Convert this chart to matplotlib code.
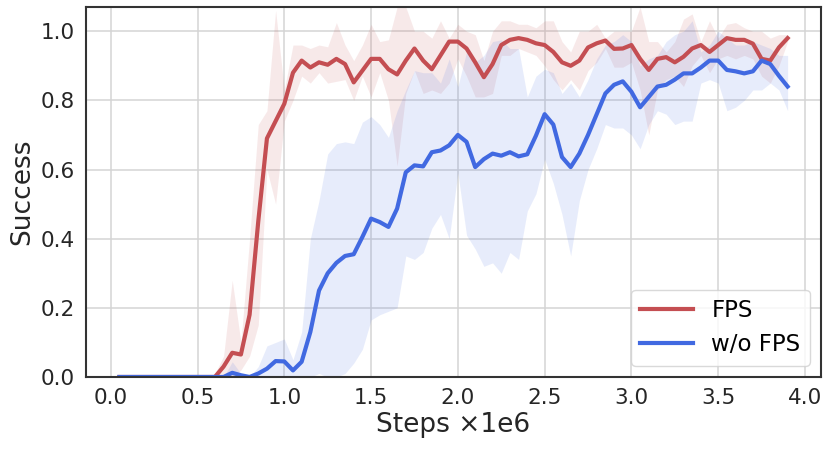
import numpy as np
import matplotlib
matplotlib.use('Agg')
import matplotlib.pyplot as plt

steps = np.round(np.arange(1, 79) * 0.05, 2)

fps_mean = [0.0] * 11 + [
    0.0, 0.03, 0.07, 0.065, 0.18, 0.45, 0.69, 0.74, 0.79, 0.88,
    0.915, 0.895, 0.91, 0.903, 0.92, 0.905, 0.852, 0.886, 0.92, 0.92,
    0.89, 0.875, 0.915, 0.95, 0.915, 0.89, 0.93, 0.97, 0.97, 0.95,
    0.91, 0.867, 0.905, 0.96, 0.975, 0.98, 0.975, 0.965, 0.96, 0.94,
    0.91, 0.90, 0.915, 0.953, 0.965, 0.973, 0.949, 0.95, 0.96, 0.92,
    0.888, 0.92, 0.925, 0.91, 0.926, 0.95, 0.96, 0.94, 0.96, 0.98,
    0.975, 0.975, 0.964, 0.92, 0.915, 0.953, 0.98]
fps_low = [0.0] * 11 + [
    0.0, 0.0, 0.0, 0.02, 0.06, 0.15, 0.60, 0.50, 0.74, 0.80,
    0.87, 0.85, 0.88, 0.85, 0.855, 0.86, 0.80, 0.87, 0.81, 0.88,
    0.80, 0.61, 0.82, 0.886, 0.82, 0.83, 0.82, 0.85, 0.92, 0.87,
    0.81, 0.81, 0.82, 0.93, 0.93, 0.95, 0.94, 0.93, 0.90, 0.86,
    0.83, 0.86, 0.83, 0.886, 0.91, 0.95, 0.896, 0.896, 0.91, 0.83,
    0.70, 0.83, 0.86, 0.87, 0.84, 0.90, 0.93, 0.88, 0.92, 0.93,
    0.92, 0.93, 0.92, 0.87, 0.85, 0.90, 0.97]
fps_high = [0.0] * 11 + [
    0.01, 0.06, 0.28, 0.10, 0.40, 0.73, 0.77, 1.06, 0.83, 0.96,
    0.96, 0.95, 0.96, 0.955, 1.025, 0.96, 0.915, 0.96, 1.02, 0.97,
    0.975, 1.07, 1.07, 1.0, 1.0, 0.98, 1.03, 0.98, 1.02, 1.0,
    0.99, 0.915, 1.0, 1.03, 1.03, 1.02, 1.02, 1.01, 1.03, 1.03,
    0.97, 0.94, 1.0, 1.0, 1.02, 0.98, 1.0, 1.0, 1.0, 1.07,
    0.97, 0.97, 0.94, 0.97, 1.035, 1.05, 0.97, 1.03, 0.98, 1.02,
    1.025, 1.01, 1.0, 1.0, 0.98, 0.99, 0.99]

wo_mean = [0.0] * 13 + [
    0.012, 0.005, 0.0, 0.01, 0.024, 0.046, 0.045, 0.019, 0.044, 0.13,
    0.25, 0.30, 0.33, 0.35, 0.355, 0.405, 0.458, 0.448, 0.434, 0.487,
    0.592, 0.612, 0.609, 0.65, 0.655, 0.67, 0.70, 0.68, 0.607, 0.63,
    0.646, 0.64, 0.65, 0.638, 0.644, 0.698, 0.76, 0.73, 0.636, 0.607,
    0.646, 0.70, 0.76, 0.82, 0.845, 0.855, 0.825, 0.78, 0.81, 0.84,
    0.845, 0.86, 0.878, 0.878, 0.895, 0.915, 0.915, 0.888, 0.884, 0.878,
    0.884, 0.915, 0.905, 0.871, 0.84]
wo_low = [0.0] * 13 + [
    0.0, 0.0, 0.0, 0.0, 0.0, 0.0, 0.0, 0.0, 0.0, 0.0,
    0.01, 0.0, 0.0, 0.01, 0.04, 0.08, 0.165, 0.18, 0.19, 0.20,
    0.35, 0.34, 0.36, 0.43, 0.47, 0.40, 0.59, 0.41, 0.37, 0.32,
    0.33, 0.30, 0.36, 0.34, 0.48, 0.53, 0.63, 0.56, 0.47, 0.35,
    0.51, 0.60, 0.66, 0.73, 0.72, 0.72, 0.70, 0.66, 0.73, 0.77,
    0.76, 0.73, 0.74, 0.74, 0.85, 0.86, 0.85, 0.77, 0.78, 0.80,
    0.83, 0.83, 0.85, 0.83, 0.77]
wo_high = [0.0] * 13 + [
    0.044, 0.01, 0.0, 0.03, 0.09, 0.10, 0.11, 0.05, 0.13, 0.40,
    0.51, 0.645, 0.675, 0.68, 0.675, 0.737, 0.753, 0.73, 0.693, 0.77,
    0.83, 0.886, 0.88, 0.88, 0.85, 0.92, 0.84, 0.94, 0.91, 0.93,
    0.97, 0.975, 0.95, 0.95, 0.81, 0.87, 0.89, 0.88, 0.82, 0.85,
    0.81, 0.86, 0.92, 0.96, 0.97, 0.99, 0.97, 0.90, 0.92, 0.93,
    0.97, 0.99, 1.0, 1.03, 0.94, 0.96, 1.0, 0.98, 0.96, 0.96,
    0.97, 0.96, 0.95, 0.93, 0.93]

red = '#C44E52'
blue = '#4169E1'
dark = '#262626'

plt.rcParams['font.family'] = ['DejaVu Sans']

fig = plt.figure(figsize=(8.31, 4.49), dpi=100)
ax = fig.add_axes([0.1035, 0.1604, 0.8845, 0.824])

ax.fill_between(steps, fps_low, fps_high, color=red, alpha=0.12, linewidth=0)
ax.fill_between(steps, wo_low, wo_high, color=blue, alpha=0.12, linewidth=0)
ax.plot(steps, fps_mean, color=red, lw=3, label='FPS')
ax.plot(steps, wo_mean, color=blue, lw=3, label='w/o FPS')

ax.set_ylim(0, 1.07)
ax.set_xticks([0.0, 0.5, 1.0, 1.5, 2.0, 2.5, 3.0, 3.5, 4.0])
ax.set_yticks([0.0, 0.2, 0.4, 0.6, 0.8, 1.0])
ax.grid(True, color='#d4d4d4', lw=1.1)
ax.set_axisbelow(True)
for s in ax.spines.values():
    s.set_color('#333333')
    s.set_linewidth(1.5)
ax.tick_params(length=0, pad=8, labelsize=15.5, labelcolor=dark)

ax.set_xlabel('Steps ×1e6', fontsize=19, color=dark, labelpad=3)
ax.set_ylabel('Success', fontsize=19, color=dark, labelpad=4)

ax.legend(loc='lower right', fontsize=16.5, handlelength=2.3,
          edgecolor='#d0d0d0', framealpha=0.8)

fig.savefig('out.png', dpi=100)
